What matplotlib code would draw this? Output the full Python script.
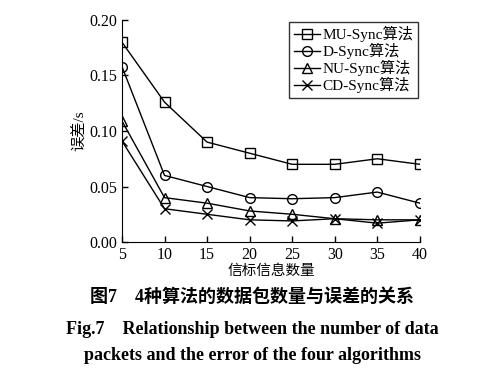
import matplotlib
matplotlib.use("Agg")
import matplotlib.pyplot as plt

# data
packets = [5, 10, 15, 20, 25, 30, 35, 40]
mu_sync = [0.180, 0.126, 0.090, 0.080, 0.070, 0.070, 0.075, 0.070]
d_sync = [0.158, 0.060, 0.050, 0.040, 0.039, 0.040, 0.045, 0.035]
nu_sync = [0.109, 0.040, 0.035, 0.028, 0.025, 0.021, 0.020, 0.020]
cd_sync = [0.091, 0.030, 0.025, 0.020, 0.019, 0.021, 0.017, 0.020]
y_ticks = [0.00, 0.05, 0.10, 0.15, 0.20]

plt.rcParams['font.family'] = ['Liberation Serif', 'Noto Sans CJK SC']

fig = plt.figure(figsize=(5.04, 3.77), dpi=100)
ax = fig.add_axes([0.242, 0.358, 0.591, 0.589])

style = dict(color='black', lw=1.0, markerfacecolor='none', markeredgecolor='black', markersize=7, mew=1.0)
ax.plot(packets, mu_sync, marker='s', label='MU-Sync算法', **style)
ax.plot(packets, d_sync, marker='o', label='D-Sync算法', **style)
ax.plot(packets, nu_sync, marker='^', label='NU-Sync算法', **style)
ax.plot(packets, cd_sync, marker='x', label='CD-Sync算法', **style)

ax.set_xlim(5, 40)
ax.set_ylim(0, 0.2)
ax.set_xticks(packets)
ax.set_yticks(y_ticks)
ax.set_yticklabels([f"{v:.2f}" for v in y_ticks])
ax.tick_params(direction='in', labelsize=11.5, length=4, width=1)
ax.spines['top'].set_visible(False)
ax.spines['right'].set_visible(False)

ax.set_xlabel('信标信息数量', fontsize=10.5, labelpad=1)
ax.set_ylabel('误差/s', fontsize=11, labelpad=2)

leg = ax.legend(loc='upper right', bbox_to_anchor=(1.0, 1.0), fontsize=11,
                frameon=True, fancybox=False, edgecolor='black', borderaxespad=0.1,
                handlelength=1.7, handletextpad=0.2, borderpad=0.3, labelspacing=0.05)
leg.get_frame().set_linewidth(1.0)

fig.text(0.5, 0.212, '图7    4种算法的数据包数量与误差的关系', ha='center', va='center',
         fontsize=13, fontweight='bold')
fig.text(0.5, 0.127, 'Fig.7    Relationship between the number of data', ha='center',
         va='center', fontsize=13, fontweight='bold')
fig.text(0.5, 0.058, 'packets and the error of the four algorithms', ha='center',
         va='center', fontsize=13, fontweight='bold')

fig.savefig('out.png', dpi=100)
